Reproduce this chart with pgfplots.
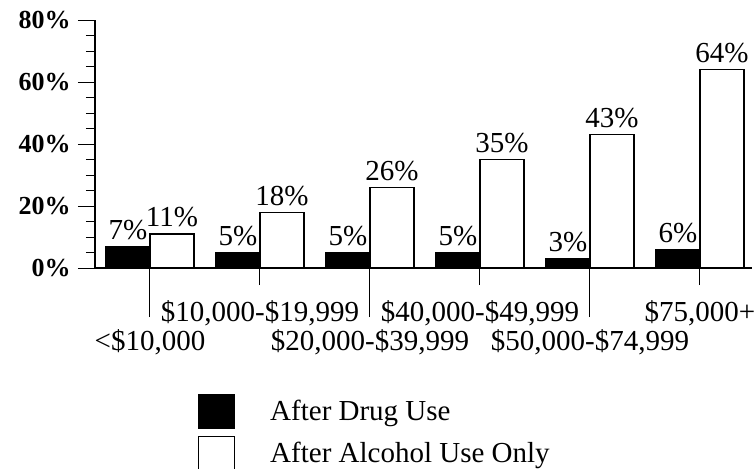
\documentclass[border=0pt]{standalone}
\usepackage{fontspec}
\setmainfont{Liberation Serif}
\usepackage{pgfplots}
\pgfplotsset{compat=1.18}

\begin{document}
\begin{tikzpicture}
\begin{axis}[
    scale only axis, width=328.5pt, height=124pt,
    xmin=-0.5, xmax=5.473, ymin=0, ymax=80,
    axis lines*=left,
    axis line style={line width=0.8pt},
    tick align=outside,
    tick style={black, line width=0.5pt},
    major tick length=8.5pt, minor tick length=4.5pt,
    ytick={0,20,40,60,80},
    yticklabels={0\%,20\%,40\%,60\%,80\%},
    minor y tick num=3,
    yticklabel style={font=\fontsize{13}{15}\selectfont\bfseries, inner sep=3.5pt},
    xtick={1,3,5},
    xticklabels={{\$10,000-\$19,999},{\$40,000-\$49,999},{\$75,000+}},
    extra x ticks={0,2,4},
    extra x tick labels={{<\$10,000},{\$20,000-\$39,999},{\$50,000-\$74,999}},
    extra x tick style={major tick length=24.5pt, xticklabel style={yshift=1.5pt}},
    xticklabel style={font=\fontsize{14.5}{16}\selectfont, yshift=-4pt},
    nodes near coords style={font=\fontsize{14.5}{16}\selectfont, black, inner sep=3pt},
    legend style={draw=none, fill=none, inner sep=0pt, outer sep=0pt,
        at={(0.1568,-0.508)}, anchor=north west,
        font=\fontsize{14.5}{16}\selectfont, row sep=3.5pt,
        cells={anchor=west},
        /tikz/every odd column/.append style={column sep=15.5pt}},
]
\addplot[ybar, bar width=22pt, bar shift=-11pt, fill=black, draw=black, line width=0.6pt,
    nodes near coords={\pgfmathprintnumber[assume math mode=true]{\pgfplotspointmeta}\%},
    every node near coord/.append style={xshift=-11pt},
    legend image code/.code={\draw[fill=black, line width=0.6pt] (0pt,-8.5pt) rectangle (18pt,8.5pt);}]
    coordinates {(0,7)(1,5)(2,5)(3,5)(4,3)(5,6)};
\addlegendentry{After Drug Use}
\addplot[ybar, bar width=22pt, bar shift=11pt, fill=white, draw=black, line width=0.6pt,
    nodes near coords={\pgfmathprintnumber[assume math mode=true]{\pgfplotspointmeta}\%},
    every node near coord/.append style={xshift=11pt},
    legend image code/.code={\draw[fill=white, line width=0.6pt] (0pt,-8.5pt) rectangle (18pt,8.5pt);}]
    coordinates {(0,11)(1,18)(2,26)(3,35)(4,43)(5,64)};
\addlegendentry{After Alcohol Use Only}
\end{axis}
\pgfresetboundingbox
\useasboundingbox (-47.5pt,-100pt) rectangle (330.5pt,134pt);
\end{tikzpicture}
\end{document}
